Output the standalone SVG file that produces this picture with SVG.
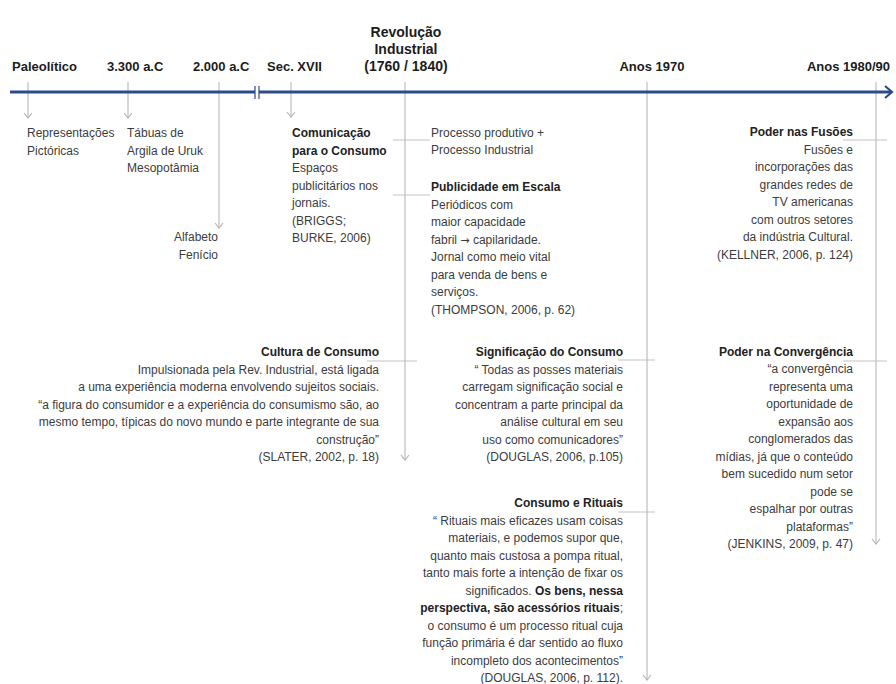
<svg xmlns="http://www.w3.org/2000/svg" width="896" height="684" viewBox="0 0 896 684">
<style>
text{font-family:"Liberation Sans",Arial,sans-serif;}
.hd{font-size:13px;font-weight:bold;fill:#1c1c1c;}
.rv{font-size:14px;font-weight:bold;fill:#1c1c1c;}
.t{font-size:12px;fill:#3c3c3c;}
.b{font-size:12px;font-weight:bold;fill:#222;}
.r{text-anchor:end;}
.v{stroke:#c2c2c2;stroke-width:1.3;fill:none;}
.h{stroke:#c2c2c2;stroke-width:1;fill:none;}
</style>
<defs>
<marker id="ah" markerWidth="8" markerHeight="10" refX="6" refY="5" orient="auto" markerUnits="userSpaceOnUse" viewBox="0 0 8 10">
<path d="M1,1 L6,5 L1,9" fill="none" stroke="#b5b5b5" stroke-width="1.2"/>
</marker>
</defs>
<rect width="896" height="684" fill="#ffffff"/>

<g id="connectors">
<path class="v" d="M28,82 V118" marker-end="url(#ah)"/>
<path class="v" d="M128,82 V118" marker-end="url(#ah)"/>
<path class="v" d="M219,82 V228" marker-end="url(#ah)"/>
<path class="v" d="M291,82 V117" marker-end="url(#ah)"/>
<path class="v" d="M405,82 V460" marker-end="url(#ah)"/>
<path class="v" d="M647,82 V680" marker-end="url(#ah)"/>
<path class="v" d="M876,82 V544" marker-end="url(#ah)"/>
<path class="h" d="M393,140 H430"/>
<path class="h" d="M393,195 H430"/>
<path class="h" d="M367,361 H417"/>
<path class="h" d="M618,360 H655"/>
<path class="h" d="M618,512 H655"/>
<path class="h" d="M843,140 H887"/>
<path class="h" d="M843,361 H887"/>
</g>

<g id="timeline">
<line x1="10" y1="92" x2="891" y2="92" stroke="#2d4a89" stroke-width="3"/>
<path d="M885,86 L892,92 L885,98" fill="none" stroke="#2d4a89" stroke-width="2.2"/>
<rect x="255" y="88" width="4" height="9" fill="#ffffff"/>
<line x1="255" y1="86" x2="255" y2="99" stroke="#2d4a89" stroke-width="1.2"/>
<line x1="259" y1="86" x2="259" y2="99" stroke="#2d4a89" stroke-width="1.2"/>
</g>

<g id="header-paleolitico"><text class="hd" x="12" y="71">Paleolítico</text></g>
<g id="header-3300"><text class="hd" x="107" y="71">3.300 a.C</text></g>
<g id="header-2000"><text class="hd" x="193" y="71">2.000 a.C</text></g>
<g id="header-secxvii"><text class="hd" x="267" y="71">Sec. XVII</text></g>
<g id="header-revolucao">
<text class="rv" x="406" y="37" text-anchor="middle">Revolução</text>
<text class="rv" x="406" y="54" text-anchor="middle">Industrial</text>
<text class="rv" x="406" y="71" text-anchor="middle">(1760 / 1840)</text>
</g>
<g id="header-1970"><text class="hd" x="652" y="71" text-anchor="middle">Anos 1970</text></g>
<g id="header-1980"><text class="hd" x="890" y="71" text-anchor="end">Anos 1980/90</text></g>

<g id="node-representacoes">
<text class="t" x="27" y="137">Representações</text>
<text class="t" x="27" y="154.5">Pictóricas</text>
</g>
<g id="node-tabuas">
<text class="t" x="127" y="137">Tábuas de</text>
<text class="t" x="127" y="154.5">Argila de Uruk</text>
<text class="t" x="127" y="172">Mesopotâmia</text>
</g>
<g id="node-alfabeto">
<text class="t r" x="218" y="241">Alfabeto</text>
<text class="t r" x="218" y="258.5">Fenício</text>
</g>
<g id="node-comunicacao">
<text class="b" x="292" y="137">Comunicação</text>
<text class="b" x="292" y="154.5">para o Consumo</text>
<text class="t" x="292" y="172">Espaços</text>
<text class="t" x="292" y="189.5">publicitários nos</text>
<text class="t" x="292" y="207">jornais.</text>
<text class="t" x="292" y="224.5">(BRIGGS;</text>
<text class="t" x="292" y="242">BURKE, 2006)</text>
</g>
<g id="node-processo">
<text class="t" x="431" y="136.5">Processo produtivo +</text>
<text class="t" x="431" y="154">Processo Industrial</text>
</g>
<g id="node-publicidade">
<text class="b" x="431" y="190.5">Publicidade em Escala</text>
<text class="t" x="431" y="208.5">Periódicos com</text>
<text class="t" x="431" y="226">maior capacidade</text>
<text class="t" x="431" y="243.5">fabril <tspan font-family="DejaVu Sans" font-size="11px">→</tspan> capilaridade.</text>
<text class="t" x="431" y="261">Jornal como meio vital</text>
<text class="t" x="431" y="278.5">para venda de bens e</text>
<text class="t" x="431" y="296">serviços.</text>
<text class="t" x="431" y="313.5">(THOMPSON, 2006, p. 62)</text>
</g>
<g id="node-cultura">
<text class="b r" x="379" y="356">Cultura de Consumo</text>
<text class="t r" x="379" y="373.5">Impulsionada pela Rev. Industrial, está ligada</text>
<text class="t r" x="379" y="391">a uma experiência moderna envolvendo sujeitos sociais.</text>
<text class="t r" x="379" y="408.5">“a figura do consumidor e a experiência do consumismo são, ao</text>
<text class="t r" x="379" y="426">mesmo tempo, típicas do novo mundo e parte integrante de sua</text>
<text class="t r" x="379" y="443.5">construção”</text>
<text class="t r" x="379" y="461">(SLATER, 2002, p. 18)</text>
</g>
<g id="node-significacao">
<text class="b r" x="623" y="356">Significação do Consumo</text>
<text class="t r" x="623" y="373.5">“ Todas as posses materiais</text>
<text class="t r" x="623" y="391">carregam significação social e</text>
<text class="t r" x="623" y="408.5">concentram a parte principal da</text>
<text class="t r" x="623" y="426">análise cultural em seu</text>
<text class="t r" x="623" y="443.5">uso como comunicadores”</text>
<text class="t r" x="623" y="461">(DOUGLAS, 2006, p.105)</text>
</g>
<g id="node-rituais">
<text class="b r" x="623" y="507">Consumo e Rituais</text>
<text class="t r" x="623" y="524.5">“ Rituais mais eficazes usam coisas</text>
<text class="t r" x="623" y="542">materiais, e podemos supor que,</text>
<text class="t r" x="623" y="559.5">quanto mais custosa a pompa ritual,</text>
<text class="t r" x="623" y="577">tanto mais forte a intenção de fixar os</text>
<text class="t r" x="623" y="594.5">significados. <tspan font-weight="bold" fill="#222">Os bens, nessa</tspan></text>
<text class="t r" x="623" y="612"><tspan font-weight="bold" fill="#222">perspectiva, são acessórios rituais</tspan>;</text>
<text class="t r" x="623" y="629.5">o consumo é um processo ritual cuja</text>
<text class="t r" x="623" y="647">função primária é dar sentido ao fluxo</text>
<text class="t r" x="623" y="664.5">incompleto dos acontecimentos”</text>
<text class="t r" x="623" y="682">(DOUGLAS, 2006, p. 112).</text>
</g>
<g id="node-fusoes">
<text class="b r" x="853" y="136">Poder nas Fusões</text>
<text class="t r" x="853" y="153.5">Fusões e</text>
<text class="t r" x="853" y="171">incorporações das</text>
<text class="t r" x="853" y="188.5">grandes redes de</text>
<text class="t r" x="853" y="206">TV americanas</text>
<text class="t r" x="853" y="223.5">com outros setores</text>
<text class="t r" x="853" y="241">da indústria Cultural.</text>
<text class="t r" x="853" y="258.5">(KELLNER, 2006, p. 124)</text>
</g>
<g id="node-convergencia">
<text class="b r" x="853" y="355.5">Poder na Convergência</text>
<text class="t r" x="853" y="373">“a convergência</text>
<text class="t r" x="853" y="390.5">representa uma</text>
<text class="t r" x="853" y="408">oportunidade de</text>
<text class="t r" x="853" y="425.5">expansão aos</text>
<text class="t r" x="853" y="443">conglomerados das</text>
<text class="t r" x="853" y="460.5">mídias, já que o conteúdo</text>
<text class="t r" x="853" y="478">bem sucedido num setor</text>
<text class="t r" x="853" y="495.5">pode se</text>
<text class="t r" x="853" y="513">espalhar por outras</text>
<text class="t r" x="853" y="530.5">plataformas”</text>
<text class="t r" x="853" y="548">(JENKINS, 2009, p. 47)</text>
</g>
</svg>
